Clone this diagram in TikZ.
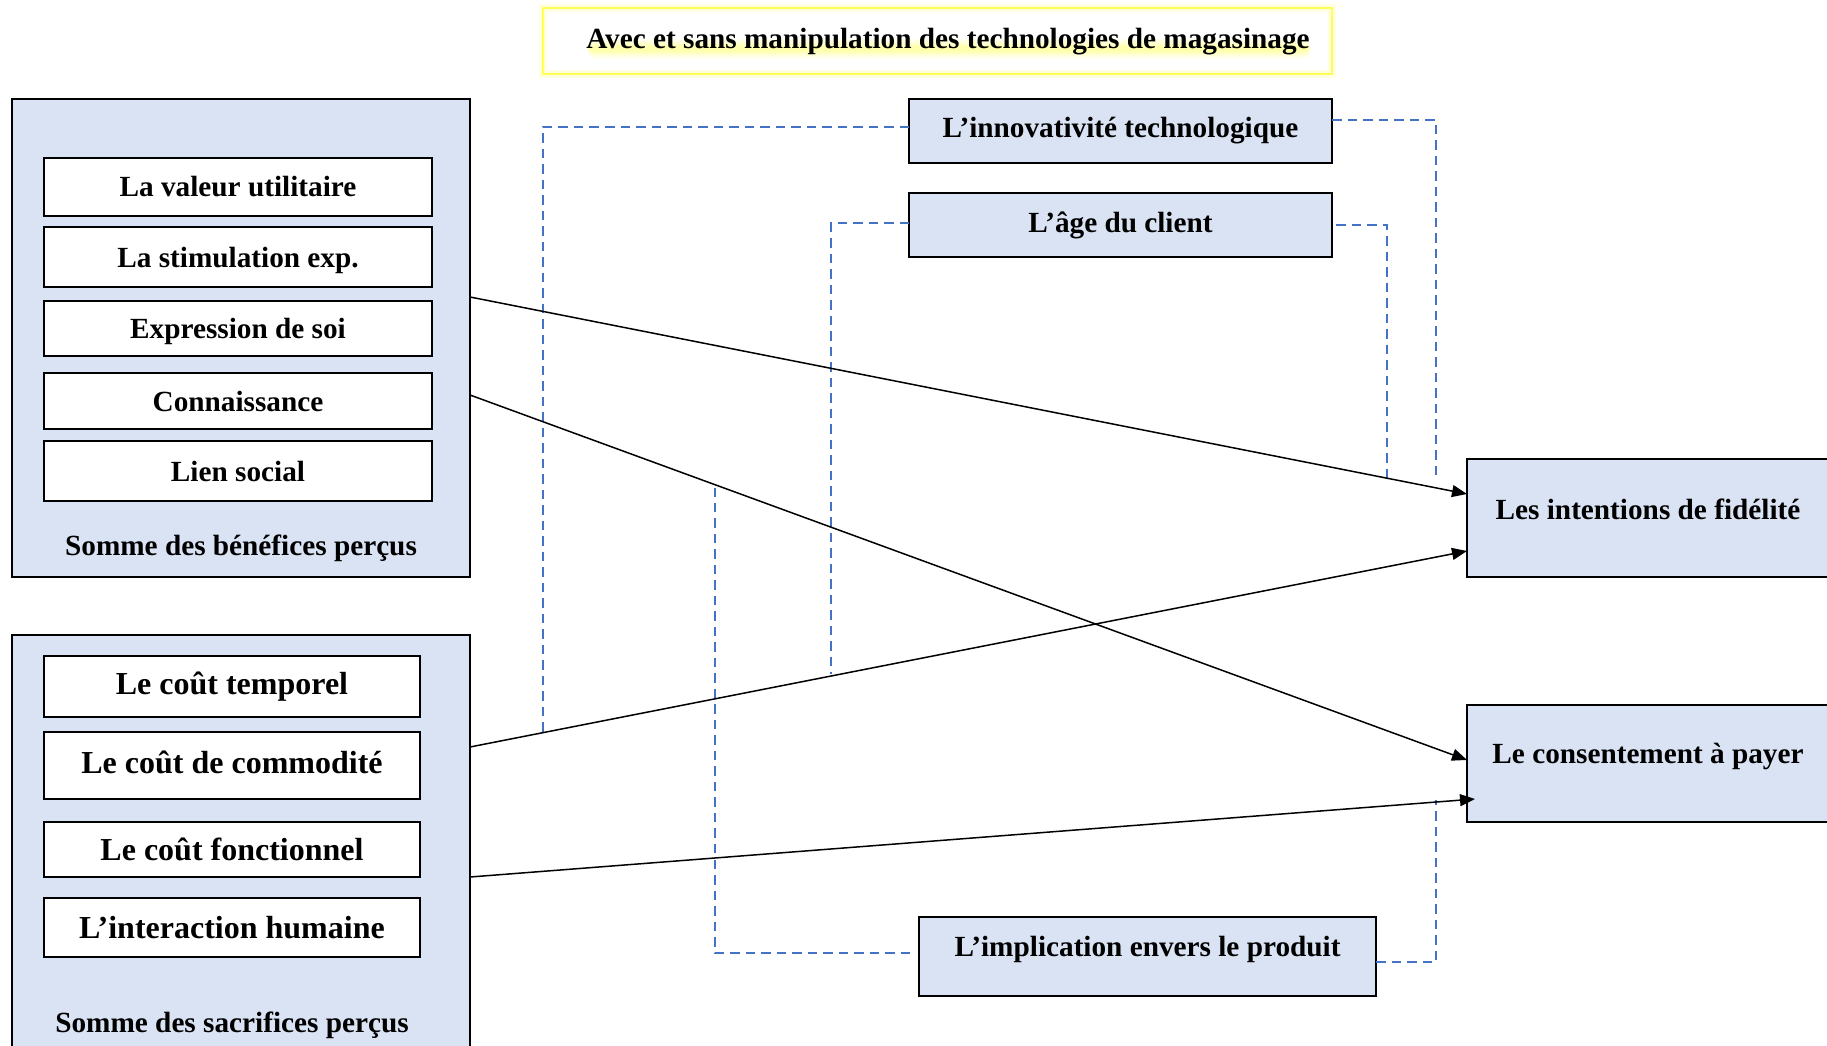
\documentclass[tikz,border=0pt]{standalone}
\usepackage{fontspec}
\setmainfont{Liberation Serif}
\usetikzlibrary{arrows.meta,calc}
\definecolor{boxblue}{HTML}{DAE3F3}
\definecolor{dashblue}{HTML}{4472C4}
\definecolor{glowyellow}{HTML}{FFFF55}
\begin{document}
\begin{tikzpicture}[x=0.4pt,y=-0.4pt,
  outer/.style={draw=black,line width=1.15pt,fill=boxblue,inner sep=0pt,outer sep=0pt},
  inbox/.style={draw=black,line width=1pt,fill=white,inner sep=0pt,outer sep=0pt},
  btxt/.style={font=\fontsize{11.7pt}{14pt}\selectfont\bfseries},
  stxt/.style={font=\fontsize{12.8pt}{15pt}\selectfont\bfseries},
  lbl/.style={inner sep=0pt,font=\fontsize{11.7pt}{14pt}\selectfont\bfseries},
  link/.style={draw=black,line width=0.6pt,-{Triangle[length=6pt,width=4.8pt]}},
  modline/.style={draw=dashblue,line width=0.8pt,dash pattern=on 3.8pt off 2.4pt},
]
\useasboundingbox (0,0) rectangle (1827,1046);
\clip (0,0) rectangle (1827,1046);
\fill[white] (0,0) rectangle (1827,1046);

% title
\node[draw=glowyellow,draw opacity=0.18,line width=3.2pt,inner sep=0pt,
      minimum width=315.6pt,minimum height=26.4pt] (titleglow) at (937.5,41) {};
\node[draw=glowyellow,line width=0.7pt,inner sep=0pt,
      minimum width=315.6pt,minimum height=26.4pt] (title) at (937.5,41) {};
\foreach \h/\o in {20/0.10,15/0.13,10/0.16,6/0.2}
  \fill[glowyellow,opacity=\o,rounded corners=3pt] (588,49-\h/2) rectangle (1310,49+\h/2);
\node[lbl] (titletext) at (948,42) {Avec et sans manipulation des technologies de magasinage};

% benefits
\node[outer,minimum width=183.2pt,minimum height=191.2pt] (ben) at (241,338) {};
\node[inbox,btxt,minimum width=155.2pt,minimum height=23.2pt] (b1) at (238,187) {La valeur utilitaire};
\node[inbox,btxt,minimum width=155.2pt,minimum height=24pt,text depth=0pt] (b2) at (238,257) {La stimulation exp.};
\node[inbox,btxt,minimum width=155.2pt,minimum height=22pt,text depth=0pt] (b3) at (238,328.5) {Expression de soi};
\node[inbox,btxt,minimum width=155.2pt,minimum height=22.4pt] (b4) at (238,401) {Connaissance};
\node[inbox,btxt,minimum width=155.2pt,minimum height=24pt] (b5) at (238,471) {Lien social};
\node[lbl] (bentext) at (241,548) {Somme des bénéfices perçus};

% sacrifices
\node[outer,minimum width=183.2pt,minimum height=170pt] (sac) at (241,847.5) {};
\node[inbox,stxt,minimum width=150.4pt,minimum height=24.4pt] (s1) at (232,686.5) {Le coût temporel};
\node[inbox,stxt,minimum width=150.4pt,minimum height=26.8pt,text depth=0.25em] (s2) at (232,765.5) {Le coût de commodité};
\node[inbox,stxt,minimum width=150.4pt,minimum height=22pt] (s3) at (232,849.5) {Le coût fonctionnel};
\node[inbox,stxt,minimum width=150.4pt,minimum height=23.6pt] (s4) at (232,927.5) {L’interaction humaine};
\node[lbl] (sactext) at (232,1025) {Somme des sacrifices perçus};

% moderators
\node[outer,btxt,minimum width=169.2pt,minimum height=25.6pt] (innov) at (1120.5,131) {L’innovativité technologique};
\node[outer,btxt,minimum width=169.2pt,minimum height=25.6pt] (age) at (1120.5,225) {L’âge du client};
\node[outer,minimum width=182.8pt,minimum height=31.6pt] (impl) at (1147.5,956.5) {};
\node[lbl] (impltext) at (1147.5,949) {L’implication envers le produit};

% outcomes
\node[outer,minimum width=145.2pt,minimum height=47.2pt] (fid) at (1648.5,518) {};
\node[lbl] (fidtext) at (1648,509) {Les intentions de fidélité};
\node[outer,minimum width=145.2pt,minimum height=46.8pt] (cons) at (1648.5,763.5) {};
\node[lbl] (constext) at (1648,756) {Le consentement à payer};

% dashed moderator lines
\coordinate (innovL) at (543,732);
\coordinate (ageL) at (831,674);
\coordinate (innovR) at (1436,479);
\coordinate (ageR) at (1387,479);
\coordinate (implL) at (715,488);
\coordinate (implR) at (1436,800);
\draw[modline] ([yshift=1.6pt]innov.west) -| (innovL);
\draw[modline] ([yshift=0.8pt]age.west) -| (ageL);
\draw[modline] ([yshift=4.4pt]innov.east) -| (innovR);
\draw[modline] ([xshift=1.6pt]age.east) -| (ageR);
\draw[modline] ([xshift=-3.6pt,yshift=1.4pt]impl.west) -| (implL);
\draw[modline] ([yshift=-2.2pt]impl.east) -| (implR);

% arrows
\draw[link] ([yshift=16.4pt]ben.east) -- ([yshift=9.6pt]fid.west);
\draw[link] ([yshift=-22.8pt]ben.east) -- ([yshift=1.4pt]cons.west);
\draw[link] ([yshift=40.2pt]sac.east) -- ([yshift=-13.2pt]fid.west);
\draw[link] ([yshift=-11.8pt]sac.east) -- ([xshift=3.2pt,yshift=-14.2pt]cons.west);
\end{tikzpicture}
\end{document}
